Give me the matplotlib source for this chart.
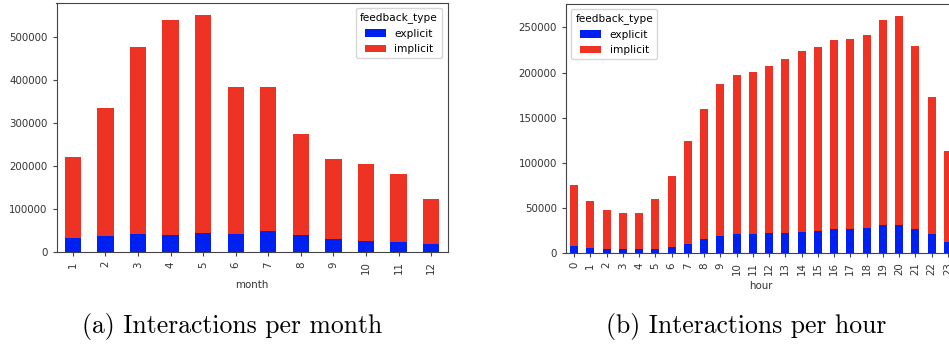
import numpy as np
import pandas as pd
import matplotlib
matplotlib.use('Agg')
import matplotlib.pyplot as plt

# %% Data
months = list(range(1, 13))
month_total = [222500, 334900, 478300, 540300, 552700, 383700,
               383700, 274400, 217100, 204700, 182900, 123300]
month_explicit = [31800, 36400, 41100, 38800, 44200, 41100,
                  49600, 38800, 29500, 26400, 24000, 18600]

hours = list(range(24))
hour_total = [75000, 57400, 47800, 44500, 44500, 59600, 85700, 124600,
              159900, 187100, 197800, 200400, 207400, 215400, 223900, 228700,
              235700, 236800, 241500, 258100, 262900, 229800, 172800, 112900]
hour_explicit = [7700, 5500, 4400, 4400, 4400, 4400, 6600, 10300,
                 15400, 18800, 21000, 21000, 22100, 22100, 23200, 24600,
                 26800, 26800, 27900, 30500, 30500, 26800, 21000, 12500]

colors = ['#0020f2', '#ee3224']

df_month = pd.DataFrame({'explicit': month_explicit,
                         'implicit': np.array(month_total) - np.array(month_explicit)},
                        index=pd.Index(months, name='month'))
df_month.columns.name = 'feedback_type'
df_hour = pd.DataFrame({'explicit': hour_explicit,
                        'implicit': np.array(hour_total) - np.array(hour_explicit)},
                       index=pd.Index(hours, name='hour'))
df_hour.columns.name = 'feedback_type'

plt.rcParams['font.size'] = 7.4
plt.rcParams['axes.edgecolor'] = '#444444'
plt.rcParams['xtick.color'] = '#444444'
plt.rcParams['ytick.color'] = '#444444'
plt.rcParams['xtick.labelcolor'] = '#333333'
plt.rcParams['ytick.labelcolor'] = '#333333'

fig = plt.figure(figsize=(9.49, 3.45), dpi=100)
W, H = 949, 345
ax1 = fig.add_axes([56.5/W, 1-252/H, (447.5-56.5)/W, (252-3)/H])
ax2 = fig.add_axes([566/W, 1-253/H, (956-566)/W, (253-4)/H])

df_month.plot(kind='bar', stacked=True, ax=ax1, color=colors, width=0.5)
df_hour.plot(kind='bar', stacked=True, ax=ax2, color=colors, width=0.5)

ax1.legend(title='feedback_type', loc='upper right', fontsize=7.6, title_fontsize=7.6)
ax2.legend(title='feedback_type', loc='upper left', fontsize=7.6, title_fontsize=7.6)
for ax in (ax1, ax2):
    ax.xaxis.label.set_color('#333333')
    ax.tick_params(length=3)

# captions under the two panels (LaTeX-like serif)
fig.text(232/W, 1-327/H, '(a) Interactions per month', family='cmr10',
         fontsize=18.5, ha='center', va='center')
fig.text(746/W, 1-327/H, '(b) Interactions per hour', family='cmr10',
         fontsize=18.5, ha='center', va='center')

fig.savefig('out.png', dpi=100)
